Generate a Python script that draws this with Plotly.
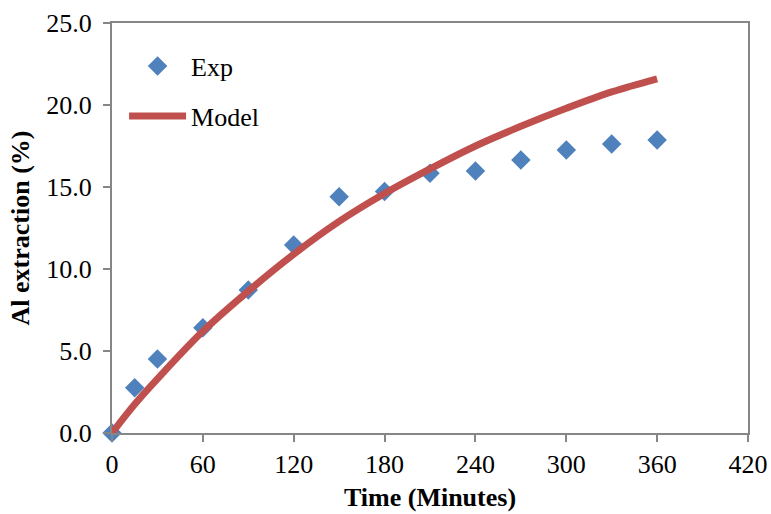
import plotly.graph_objects as go

exp_time = [0, 15, 30, 60, 90, 120, 150, 180, 210, 240, 270, 300, 330, 360]
exp_al = [0.0, 2.76, 4.51, 6.42, 8.72, 11.46, 14.41, 14.72, 15.84, 15.98, 16.65, 17.26, 17.62, 17.87]

model_time = [0, 15, 30, 60, 90, 120, 150, 180, 210, 240, 270, 300, 330, 360]
model_al = [0.0, 1.75, 3.3, 6.2, 8.65, 10.9, 12.9, 14.6, 16.1, 17.5, 18.7, 19.8, 20.8, 21.6]

x_ticks = [0, 60, 120, 180, 240, 300, 360, 420]
y_ticks = [0, 5, 10, 15, 20, 25]

FONT = "Liberation Serif, Times New Roman, serif"
AX = "#868686"
FS = 26

fig = go.Figure()
fig.add_trace(go.Scatter(
    x=exp_time, y=exp_al, mode="markers", name="Exp", legendgroup="a",
    marker=dict(symbol="diamond", size=15, color="#4F81BD"),
))
fig.add_trace(go.Scatter(
    x=model_time, y=model_al, mode="lines", name="Model", legendgroup="b",
    line=dict(color="#C0504D", width=7, shape="spline"),
))

fig.update_layout(
    width=771, height=514,
    margin=dict(l=112, r=23, t=23, b=81),
    plot_bgcolor="white", paper_bgcolor="white",
    font=dict(family=FONT, size=FS, color="black"),
    showlegend=True,
    legend=dict(x=0.019, y=0.952, xanchor="left", yanchor="top",
                bgcolor="rgba(0,0,0,0)", font=dict(size=FS, family=FONT),
                traceorder="grouped", tracegroupgap=13, itemwidth=57),
)
fig.update_xaxes(
    range=[0, 420], tickvals=x_ticks, ticktext=[str(v) for v in x_ticks],
    showgrid=False, zeroline=False, showline=True, linecolor=AX, linewidth=2,
    mirror=True, ticks="outside", ticklen=7, tickcolor=AX, tickwidth=2,
    tickfont=dict(size=FS, family=FONT), automargin=False,
    title=dict(text="<b>Time (Minutes)</b>", font=dict(size=FS, family=FONT), standoff=10),
)
fig.update_yaxes(
    range=[0, 25], tickvals=y_ticks, ticktext=[f"{v:.1f}" for v in y_ticks],
    showgrid=False, zeroline=False, showline=True, linecolor=AX, linewidth=2,
    mirror=True, ticks="outside", ticklen=7, tickcolor=AX, tickwidth=2,
    tickfont=dict(size=FS, family=FONT), automargin=False, ticklabelstandoff=6,
    title=dict(text="<b>Al extraction (%)</b>", font=dict(size=FS, family=FONT), standoff=9),
)
fig.update_traces(cliponaxis=False)

fig.write_html("out.html")
